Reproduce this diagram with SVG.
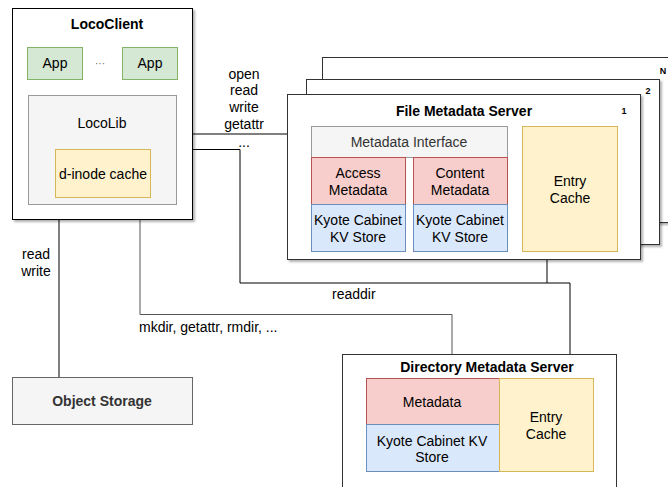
<svg xmlns="http://www.w3.org/2000/svg" width="668" height="487" viewBox="0 0 668 487">
<style>
text{font-family:"Liberation Sans",Arial,sans-serif;font-size:14px;fill:#000;text-anchor:middle;dominant-baseline:central}
.b{font-weight:bold;font-size:14px}
.g{fill:#333}
.frame{fill:#fff;stroke:#000;stroke-width:1}
.green{fill:#d5e8d4;stroke:#82b366}
.grey{fill:#f5f5f5;stroke:#666}
.yellow{fill:#fff2cc;stroke:#d6b656}
.red{fill:#f8cecc;stroke:#b85450}
.blue{fill:#dae8fc;stroke:#6c8ebf}
.ln{fill:none;stroke:#000;stroke-width:1}
.lg{fill:none;stroke:#555;stroke-width:1}
.num{font-size:9px;font-weight:bold}
</style>
<defs>
<filter id="sh" x="-5%" y="-5%" width="115%" height="115%">
<feDropShadow dx="2" dy="2" stdDeviation="1" flood-color="#000" flood-opacity="0.3"/>
</filter>
</defs>
<g id="connectors">
<path class="ln" d="M177,123 V134 H311"/>
<path class="ln" d="M177,149.5 H240 V283 H570 V354"/>
<path class="ln" d="M547,252 V283"/>
<path class="lg" d="M140,204 V314.5 H452 V354"/>
<path class="ln" d="M59,204 V377"/>
<text x="244" y="74">open</text>
<text x="244" y="90">read</text>
<text x="244" y="107">write</text>
<text x="244" y="124">getattr</text>
<text x="244" y="142">...</text>
<text x="36" y="254">read</text>
<text x="36" y="271">write</text>
<text x="332" y="294" style="text-anchor:start">readdir</text>
<text x="139" y="327" style="text-anchor:start">mkdir, getattr, rmdir, ...</text>
</g>
<g id="lococlient">
<rect class="frame" x="12.5" y="8.5" width="180" height="211" filter="url(#sh)"/>
<text class="b" x="107" y="24">LocoClient</text>
</g>
<g id="app1"><rect class="green" x="27.5" y="47.5" width="55" height="32"/><text x="55" y="63">App</text></g>
<g id="dots"><text x="100" y="63" style="fill:#666;font-size:10px">···</text></g>
<g id="app2"><rect class="green" x="122.5" y="47.5" width="55" height="32"/><text x="150" y="63">App</text></g>
<g id="locolib">
<rect class="grey" x="28.5" y="95.5" width="148" height="109" style="stroke:#999"/>
<text x="102" y="123">LocoLib</text>
</g>
<g id="dinode"><rect class="yellow" x="55.5" y="149.5" width="95" height="48"/><text x="103" y="174">d-inode cache</text></g>
<g id="fms-n">
<rect class="frame" x="322.5" y="57.5" width="360" height="165" filter="url(#sh)" style="stroke:#333"/>
<text class="num" x="663" y="71">N</text>
</g>
<g id="fms-2">
<rect class="frame" x="306.5" y="79.5" width="353" height="165" filter="url(#sh)" style="stroke:#333"/>
<text class="num" x="648" y="91">2</text>
</g>
<g id="fms-1">
<rect class="frame" x="287.5" y="94.5" width="353" height="165" filter="url(#sh)" style="stroke:#333"/>
<text class="num" x="624" y="111">1</text>
<text class="b" x="464" y="111">File Metadata Server</text>
</g>
<g id="metadata-interface"><rect class="grey" x="311.5" y="126.5" width="196" height="31" style="stroke:#999"/><text class="g" x="409" y="142">Metadata Interface</text></g>
<g id="access-metadata"><rect class="red" x="311.5" y="157.5" width="94" height="47"/><text x="358" y="173">Access</text><text x="358" y="190">Metadata</text></g>
<g id="access-kv"><rect class="blue" x="311.5" y="204.5" width="94" height="47"/><text x="358" y="220">Kyote Cabinet</text><text x="358" y="237">KV Store</text></g>
<g id="content-metadata"><rect class="red" x="413.5" y="157.5" width="94" height="47"/><text x="460" y="173">Content</text><text x="460" y="190">Metadata</text></g>
<g id="content-kv"><rect class="blue" x="413.5" y="204.5" width="94" height="47"/><text x="460" y="220">Kyote Cabinet</text><text x="460" y="237">KV Store</text></g>
<g id="fms-entry-cache"><rect class="yellow" x="522.5" y="126.5" width="95" height="125"/><text x="570" y="181">Entry</text><text x="570" y="198">Cache</text></g>
<g id="object-storage">
<rect class="grey" x="12.5" y="377.5" width="180" height="47"/>
<text class="b g" x="102" y="401">Object Storage</text>
</g>
<g id="dms">
<rect class="frame" x="342.5" y="354.5" width="274" height="140" style="stroke:#333"/>
<text class="b" x="487" y="367">Directory Metadata Server</text>
</g>
<g id="dms-metadata"><rect class="red" x="366.5" y="378.5" width="133" height="46"/><text x="432" y="402">Metadata</text></g>
<g id="dms-kv"><rect class="blue" x="366.5" y="424.5" width="133" height="47"/><text x="432" y="441">Kyote Cabinet KV</text><text x="432" y="457">Store</text></g>
<g id="dms-entry-cache"><rect class="yellow" x="499.5" y="378.5" width="94" height="93"/><text x="546" y="417">Entry</text><text x="546" y="434">Cache</text></g>
</svg>
